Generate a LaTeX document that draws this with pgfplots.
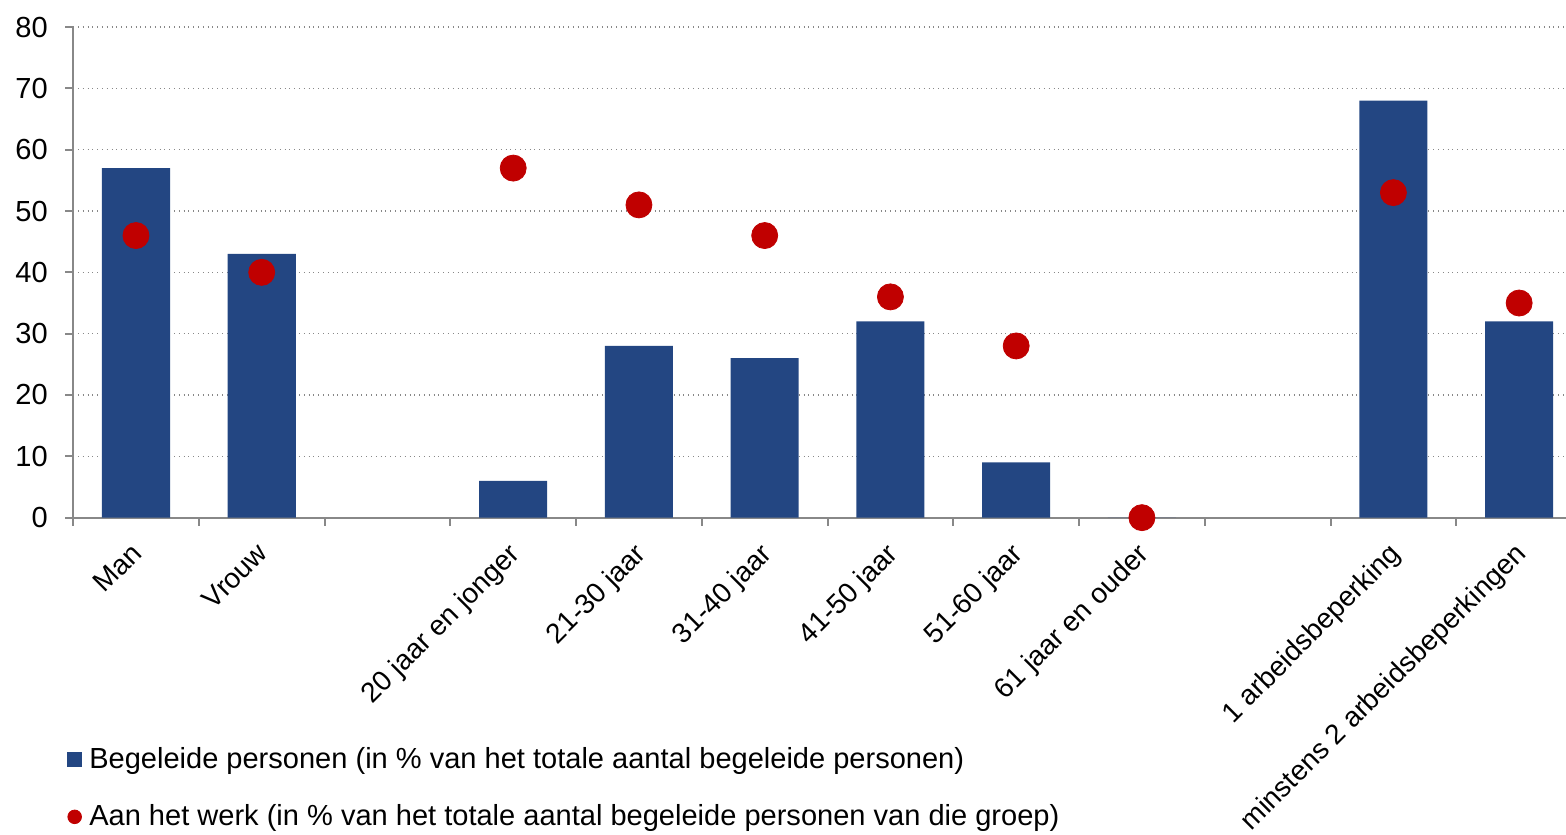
\documentclass[border=0pt]{standalone}
\usepackage{fontspec}
\setmainfont{Liberation Sans}
\usepackage{pgfplots}
\pgfplotsset{compat=1.18}
\usetikzlibrary{calc}
\definecolor{barblue}{HTML}{234682}
\definecolor{dotred}{HTML}{C00000}
\definecolor{axgray}{HTML}{888888}
\newcommand{\chartfont}{\fontsize{14.5}{17}\selectfont}
\newcommand{\xlabfont}{\fontsize{14}{16}\selectfont}
\begin{document}
\begin{tikzpicture}
\begin{axis}[
  scale only axis, width=753.5pt, height=245pt,
  xmin=-0.5, xmax=11.5, ymin=0, ymax=80,
  clip=false,
  axis x line*=bottom, axis y line*=left,
  axis line style={axgray, line width=1pt, -},
  tick align=outside,
  major tick length=4pt,
  tick style={axgray, line width=1pt},
  xtick={-0.5,0.5,...,11.5},
  x tick label as interval,
  xticklabels={Man, Vrouw, {}, 20 jaar en jonger, 21-30 jaar, 31-40 jaar, 41-50 jaar, 51-60 jaar, 61 jaar en ouder, {}, 1 arbeidsbeperking, minstens 2 arbeidsbeperkingen},
  xticklabel style={rotate=45, anchor=north east, inner sep=0pt, font=\xlabfont, xshift=-7.5pt, yshift=-3.2pt},
  ytick={0,10,...,80},
  yticklabel style={font=\chartfont, inner sep=0pt, xshift=-8.5pt},
  /pgf/number format/assume math mode=true,
  ymajorgrids,
  grid style={axgray, dotted, line width=0.7pt},
  legend style={at={(-0.004,-0.462)}, anchor=north west, draw=none, fill=none,
    font=\chartfont, inner sep=0pt, row sep=13.5pt,
    nodes={inner sep=1.5pt}},
  legend cell align=left,
]
\addplot[ybar, bar width=34pt, fill=barblue, draw=none,
  legend image code/.code={\fill[barblue] (0pt,-3.7pt) rectangle (7.4pt,3.7pt);}]
  coordinates {(0,57) (1,43) (3,6) (4,28) (5,26) (6,32) (7,9) (8,0) (10,68) (11,32)};
\addlegendentry{\hspace{2pt}Begeleide personen (in \% van het totale aantal begeleide personen)}
\addplot[only marks, mark=*, mark size=6.5pt, color=dotred, mark options={fill=dotred, draw=dotred},
  legend image code/.code={\fill[dotred] (3.6pt,0pt) circle (3.4pt);}]
  coordinates {(0,46) (1,40) (3,57) (4,51) (5,46) (6,36) (7,28) (8,0) (10,53) (11,35)};
\addlegendentry{\hspace{2pt}Aan het werk (in \% van het totale aantal begeleide personen van die groep)}
\coordinate (BL) at (rel axis cs:0,0);
\coordinate (TR) at (rel axis cs:1,1);
\end{axis}
\pgfresetboundingbox
\path ($(BL)+(-36.5pt,-158pt)$) rectangle ($(TR)+(-8pt,13.5pt)$);
\end{tikzpicture}
\end{document}
